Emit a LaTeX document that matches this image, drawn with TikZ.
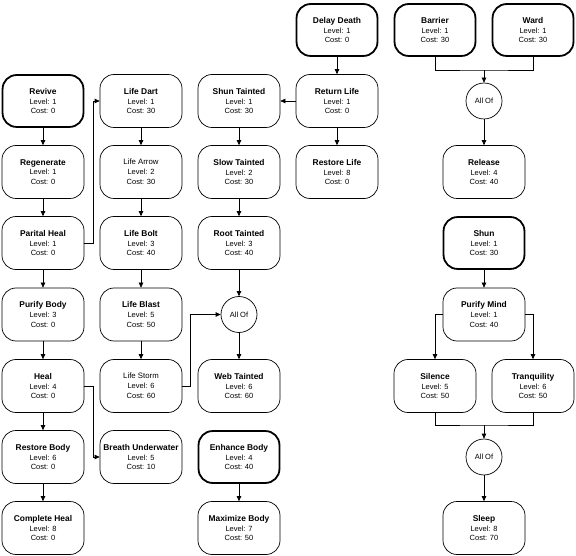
\documentclass[tikz,border=0pt]{standalone}
\usepackage{fontspec}
\setmainfont{Liberation Sans}
\usetikzlibrary{arrows.meta}
\newcommand{\skillB}[3]{{\fontsize{8.4}{9.8}\selectfont\bfseries #1}\\Level: #2\\Cost: #3}
\newcommand{\skillN}[3]{{\fontsize{7.8}{9.8}\selectfont #1}\\Level: #2\\Cost: #3}
\begin{document}
\begin{tikzpicture}[x=1pt,y=-1pt,
  box/.style={draw=black, line width=0.7pt, rounded corners=14pt, minimum width=82pt, minimum height=53pt,
    inner sep=0pt, align=center, font=\fontsize{7.5}{9.8}\selectfont},
  rootbox/.style={box, line width=1.8pt, minimum width=80.9pt, minimum height=51.9pt},
  allof/.style={draw=black, line width=0.7pt, circle, minimum size=36pt, inner sep=0pt, font=\fontsize{7.5}{9.8}\selectfont},
  conn/.style={draw=black, line width=0.7pt},
  arr/.style={conn, -{Triangle[length=5pt,width=4.5pt]}}]
\useasboundingbox (0,0) rectangle (576,556);
\fill[white] (0,0) rectangle (576,556);
% column 1
\node[rootbox] (revive) at (43,101) {\skillB{Revive}{1}{0}};
\node[box] (regen) at (43,172) {\skillB{Regenerate}{1}{0}};
\node[box] (parital) at (43,243) {\skillB{Parital Heal}{1}{0}};
\node[box] (purifybody) at (43,314.5) {\skillB{Purify Body}{3}{0}};
\node[box] (heal) at (43,386) {\skillB{Heal}{4}{0}};
\node[box] (restorebody) at (43,457) {\skillB{Restore Body}{6}{0}};
\node[box] (completeheal) at (43,528) {\skillB{Complete Heal}{8}{0}};
% column 2
\node[box] (lifedart) at (141,101) {\skillB{Life Dart}{1}{30}};
\node[box] (lifearrow) at (141,172) {\skillN{Life Arrow}{2}{30}};
\node[box] (lifebolt) at (141,243) {\skillB{Life Bolt}{3}{40}};
\node[box] (lifeblast) at (141,314.5) {\skillB{Life Blast}{5}{50}};
\node[box] (lifestorm) at (141,386) {\skillN{Life Storm}{6}{60}};
\node[box] (breath) at (141,457) {\skillB{Breath Underwater}{5}{10}};
% column 3
\node[box] (shuntainted) at (239,101) {\skillB{Shun Tainted}{1}{30}};
\node[box] (slowtainted) at (239,172) {\skillB{Slow Tainted}{2}{30}};
\node[box] (roottainted) at (239,243) {\skillB{Root Tainted}{3}{40}};
\node[allof] (allof1) at (239,314.5) {All Of};
\node[box] (webtainted) at (239,386) {\skillB{Web Tainted}{6}{60}};
\node[rootbox] (enhance) at (239,457) {\skillB{Enhance Body}{4}{40}};
\node[box] (maximize) at (239,528) {\skillB{Maximize Body}{7}{50}};
% column 4
\node[rootbox] (delay) at (337,30) {\skillB{Delay Death}{1}{0}};
\node[box] (returnlife) at (337,101) {\skillB{Return Life}{1}{0}};
\node[box] (restorelife) at (337,172) {\skillB{Restore Life}{8}{0}};
% right group
\node[rootbox] (barrier) at (435,30) {\skillB{Barrier}{1}{30}};
\node[rootbox] (ward) at (533,30) {\skillB{Ward}{1}{30}};
\coordinate (j1) at (484,70);
\node[allof] (allof2) at (484,101) {All Of};
\node[box] (release) at (484,172) {\skillB{Release}{4}{40}};
\node[rootbox] (shun) at (484,243) {\skillB{Shun}{1}{30}};
\node[box] (purifymind) at (484,314.5) {\skillB{Purify Mind}{1}{40}};
\node[box] (silence) at (435,386) {\skillB{Silence}{5}{50}};
\node[box] (tranq) at (533,386) {\skillB{Tranquility}{6}{50}};
\coordinate (j2) at (484,425);
\node[allof] (allof3) at (484,457) {All Of};
\node[box] (sleep) at (484,528) {\skillB{Sleep}{8}{70}};
% connectors column 1
\draw[arr] (revive) -- (regen);
\draw[arr] (regen) -- (parital);
\draw[arr] (parital) -- (purifybody);
\draw[arr] (purifybody) -- (heal);
\draw[arr] (heal) -- (restorebody);
\draw[arr] (restorebody) -- (completeheal);
\draw[arr] (parital.east) -- ([xshift=9pt]parital.east) |- (lifedart.west);
\draw[arr] (heal.east) -- ([xshift=9pt]heal.east) |- (breath.west);
% column 2
\draw[arr] (lifedart) -- (lifearrow);
\draw[arr] (lifearrow) -- (lifebolt);
\draw[arr] (lifebolt) -- (lifeblast);
\draw[arr] (lifeblast) -- (lifestorm);
\draw[arr] (lifestorm.east) -- ([xshift=8pt]lifestorm.east) |- (allof1.west);
% column 3/4
\draw[arr] (delay) -- (returnlife);
\draw[arr] (returnlife) -- (restorelife);
\draw[arr] (returnlife) -- (shuntainted);
\draw[arr] (shuntainted) -- (slowtainted);
\draw[arr] (slowtainted) -- (roottainted);
\draw[arr] (roottainted) -- (allof1);
\draw[arr] (allof1) -- (webtainted);
\draw[arr] (enhance) -- (maximize);
% right group
\draw[conn] (barrier.south) |- (j1) -| (ward.south);
\draw[arr] (j1) -- (allof2);
\draw[arr] (allof2) -- (release);
\draw[arr] (shun) -- (purifymind);
\draw[arr] (purifymind.west) -| (silence.north);
\draw[arr] (purifymind.east) -| (tranq.north);
\draw[conn] (silence.south) |- (j2) -| (tranq.south);
\draw[arr] (j2) -- (allof3);
\draw[arr] (allof3) -- (sleep);
\end{tikzpicture}
\end{document}
